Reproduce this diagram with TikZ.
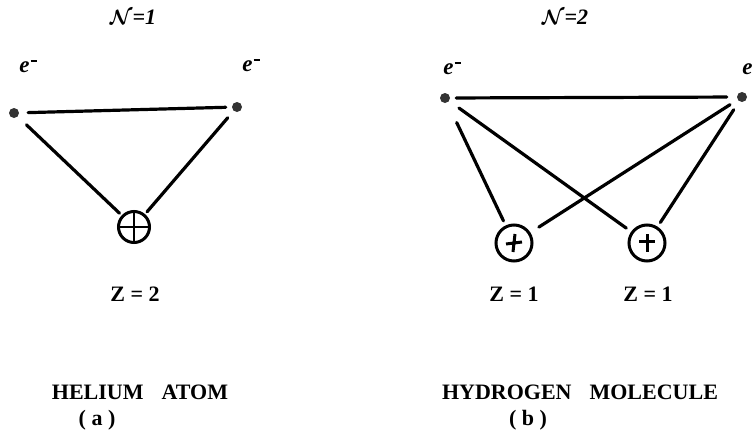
\documentclass[tikz,border=0pt]{standalone}
\usepackage{fontspec}
\setmainfont{Liberation Serif}
\newcommand{\eminus}{\itshape e\hspace{1pt}\rule[10pt]{6pt}{2.6pt}}
\begin{document}
\begin{tikzpicture}[x=1pt,y=-1pt,font=\bfseries\fontsize{22}{25}\selectfont,
  elec/.style={circle,fill=black!80,inner sep=0pt,minimum size=10pt},
  nucl/.style={circle,draw,line width=3pt,inner sep=0pt},
  bond/.style={line width=3.2pt,line cap=round},
  elabel/.style={font=\bfseries\fontsize{23}{25}\selectfont},
  nlabel/.style={font=\bfseries\itshape\fontsize{22}{25}\selectfont}]
  \useasboundingbox (0,0) rectangle (753,434);
  % (a) helium atom
  \node[nlabel] (na) at (133,17) {{\boldmath$\mathcal{N}$}=1};
  \node[elabel] (la1) at (28,66) {\eminus};
  \node[elabel] (la2) at (251,65) {\eminus};
  \node[elec] (ea1) at (14,113) {};
  \node[elec] (ea2) at (237,107) {};
  \node[nucl,minimum size=31pt] (he) at (134,227) {};
  \draw[line width=2.8pt] (he.north) -- (he.south) (he.west) -- (he.east);
  \draw[bond,shorten <=9pt,shorten >=6pt] (ea1) -- (ea2);
  \draw[bond,shorten <=12pt,shorten >=3pt] (ea1) -- (he);
  \draw[bond,shorten <=9pt,shorten >=3pt] (ea2) -- (he);
  \node (za) at (135,294) {Z = 2};
  \node (ta) at (140,392) {HELIUM\hspace{18pt}ATOM};
  \node (ca) at (97,420) {( a )};
  % (b) hydrogen molecule
  \node[nlabel] (nb) at (565,17) {{\boldmath$\mathcal{N}$}=2};
  \node[elabel] (lb1) at (452,68) {\eminus};
  \node[elabel] (lb2) at (751,68) {\eminus};
  \node[elec] (eb1) at (445,98) {};
  \node[elec] (eb2) at (742,97) {};
  \node[nucl,minimum size=36pt] (h1) at (514,243) {};
  \node[nucl,minimum size=36pt] (h2) at (647,243) {};
  \draw[line width=3pt] (h1.center) ++(-8,1) -- ++(16,-2) (h1.center) ++(1,-9) -- ++(-2,18);
  \draw[line width=3pt] (h2.center) ++(-8,-2) -- ++(16,0) (h2.center) ++(0,-9) -- ++(0,18);
  \draw[bond,shorten <=6pt,shorten >=10pt] (eb1) -- (eb2);
  \draw[bond,shorten <=22pt,shorten >=5pt] (eb1) -- (h1);
  \draw[bond,shorten <=12pt,shorten >=6pt] (eb1) -- (h2);
  \draw[bond,shorten <=9pt,shorten >=10pt] (eb2) -- (h1);
  \draw[bond,shorten <=10pt,shorten >=5pt] (eb2) -- (h2);
  \node (zb1) at (514,294) {Z = 1};
  \node (zb2) at (648,294) {Z = 1};
  \node (tb) at (580,392) {HYDROGEN\hspace{18pt}MOLECULE};
  \node (cb) at (528,420) {( b )};
\end{tikzpicture}
\end{document}
